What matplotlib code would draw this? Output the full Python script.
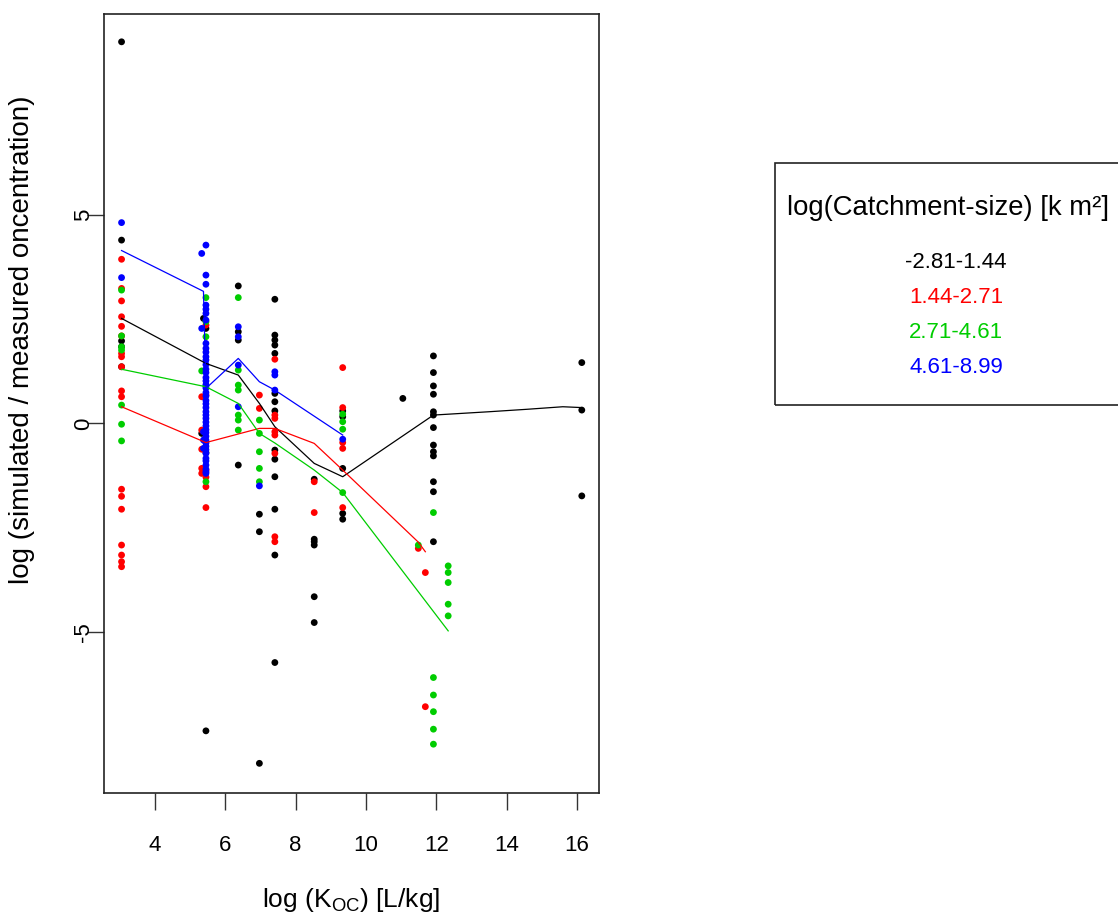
import numpy as np
import matplotlib.pyplot as plt
from matplotlib.patches import Rectangle

plt.rcParams['font.family'] = ['Liberation Sans', 'DejaVu Sans']
plt.rcParams['mathtext.fontset'] = 'custom'
plt.rcParams['mathtext.rm'] = 'Liberation Sans'
plt.rcParams['mathtext.it'] = 'Liberation Sans'
plt.rcParams['axes.unicode_minus'] = False

# --- point data: (log Koc, log sim/meas) per catchment class
black_x = [3.05]*5 + [5.38, 5.45, 5.33, 5.45, 5.45] + [6.37]*4 + [6.97]*3 + [7.41]*14 \
    + [8.53]*6 + [9.34]*5 + [11.05] + [11.92]*13 + [16.14]*3
black_y = [9.16, 4.40, 1.98, 1.84, 1.36,
           2.52, 2.28, -0.24, -0.70, -7.38,
           3.30, 2.20, 2.00, -1.00,
           -2.18, -2.60, -8.16,
           2.98, 2.12, 2.00, 1.88, 1.68, 0.72, 0.52, 0.30, -0.64, -0.86, -1.28, -2.06, -3.16, -5.74,
           -1.34, -2.78, -2.84, -2.92, -4.16, -4.78,
           0.30, 0.16, -1.08, -2.16, -2.30,
           0.60,
           1.62, 1.22, 0.90, 0.70, 0.28, 0.20, -0.10, -0.52, -0.68, -0.78, -1.40, -1.64, -2.84,
           1.46, 0.32, -1.74]

red_x = [3.05]*18 + [5.45, 5.33, 5.45, 5.33, 5.33, 5.33, 5.45, 5.33, 5.45, 5.45, 5.45] \
    + [6.97]*2 + [7.41]*8 + [8.53]*2 + [9.34]*5 + [11.49, 11.69, 11.69]
red_y = [3.94, 3.24, 2.94, 2.56, 2.33, 2.10, 1.68, 1.60, 1.36, 0.78, 0.64,
         -1.58, -1.75, -2.06, -2.92, -3.16, -3.32, -3.44,
         2.36, 0.64, 0.68, -0.16, -0.62, -1.08, -1.12, -1.20, -1.29, -1.52, -2.02,
         0.68, 0.36,
         1.54, 0.20, 0.12, -0.20, -0.28, -0.72, -2.72, -2.84,
         -1.40, -2.14,
         1.34, 0.38, -0.46, -0.60, -2.02,
         -3.00, -3.58, -6.80]

green_x = [3.05]*7 + [5.45, 5.45, 5.45, 5.33, 5.45, 5.45] + [6.37]*7 + [6.97]*5 \
    + [9.34]*4 + [11.49] + [11.92]*6 + [12.34]*5
green_y = [3.20, 2.10, 1.84, 1.76, 0.44, -0.02, -0.42,
           3.02, 2.44, 2.08, 1.26, 0.90, -1.40,
           3.02, 1.28, 0.92, 0.80, 0.20, 0.08, -0.16,
           0.08, -0.24, -0.68, -1.08, -1.40,
           0.22, 0.04, -0.14, -1.66,
           -2.92,
           -2.14, -6.10, -6.52, -6.92, -7.34, -7.70,
           -3.42, -3.58, -3.82, -4.34, -4.62]

blue_dense = [1.92, 1.80, 1.71, 1.60, 1.52, 1.41, 1.30, 1.22, 1.10, 1.02, 0.93, 0.85,
              0.74, 0.66, 0.55, 0.47, 0.38, 0.28, 0.20, 0.12, 0.03, -0.06, -0.15,
              -0.22, -0.31, -0.40, -0.47, -0.55, -0.63, -0.72]
blue_x = [3.05, 3.05, 5.33, 5.33, 5.38, 5.38, 5.38] + [5.45]*(len(blue_dense) + 13) \
    + [6.37]*4 + [6.97] + [7.41]*3 + [9.34]
blue_y = [4.82, 3.50, 4.08, 2.28, -0.20, -0.40, -0.60] + blue_dense \
    + [4.28, 3.56, 3.34, 2.84, 2.74, 2.64, 2.48, -0.84, -0.90, -1.00, -1.10, -1.16, -1.20] \
    + [2.32, 2.08, 1.40, 0.40] + [-1.50] + [1.24, 1.16, 0.80] + [-0.38]

# --- smoothed trend per class
black_lx = [3.05, 5.45, 6.37, 6.97, 7.41, 8.53, 9.34, 11.92, 13.5, 14.6, 15.6, 16.14]
black_ly = [2.52, 1.44, 1.16, 0.48, -0.08, -0.96, -1.28, 0.20, 0.28, 0.34, 0.40, 0.38]
red_lx = [3.05, 5.45, 6.97, 7.41, 8.53, 9.34, 11.49, 11.69]
red_ly = [0.40, -0.46, -0.12, -0.12, -0.48, -1.12, -2.85, -3.08]
green_lx = [3.05, 5.45, 6.37, 6.97, 7.41, 8.53, 9.34, 12.34]
green_ly = [1.30, 0.88, 0.48, -0.24, -0.47, -1.12, -1.66, -4.98]
blue_lx = [3.05, 5.38, 5.45, 6.37, 6.97, 7.41, 9.34]
blue_ly = [4.15, 3.17, 0.84, 1.56, 1.00, 0.80, -0.28]

classes = ['-2.81-1.44', '1.44-2.71', '2.71-4.61', '4.61-8.99']
colors = ['#000000', '#ff0000', '#00cd00', '#0000ff']

fig = plt.figure(figsize=(11.18, 9.18), dpi=100)
ax = fig.add_axes([0.093, 0.1358, 0.4428, 0.8486])

groups = [(black_x, black_y), (red_x, red_y), (green_x, green_y), (blue_x, blue_y)]
for (gx, gy), c in zip(groups, colors):
    ax.scatter(gx, gy, s=24, color=c, edgecolors='none', zorder=2)

lines = [(black_lx, black_ly), (red_lx, red_ly), (green_lx, green_ly), (blue_lx, blue_ly)]
for (lx, ly), c in zip(lines, colors):
    ax.plot(lx, ly, color=c, lw=0.9, zorder=3)

ax.set_xlim(2.55, 16.63)
ax.set_ylim(-8.88, 9.82)
ax.set_xticks([4, 6, 8, 10, 12, 14, 16])
ax.set_yticks([-5, 0, 5])
ax.tick_params(axis='x', length=12, width=1, labelsize=16, pad=18, color='#333333')
ax.tick_params(axis='y', length=12, width=1, labelsize=16, pad=-5, color='#333333')
for lab in ax.get_yticklabels():
    lab.set_rotation(90)
    lab.set_va('center')
for sp in ax.spines.values():
    sp.set_linewidth(1.2)
    sp.set_color('#222222')

fig.text(0.3144, 1 - 900 / 918, r'log (K$_{\mathrm{OC}}$) [L/kg]', fontsize=19,
         ha='center', va='center')
fig.text(22 / 1118, 1 - 340 / 918, 'log (simulated / measured oncentration)', fontsize=20,
         ha='center', va='center', rotation=90)

# legend box, runs off the right edge
box = Rectangle((775 / 1118, 1 - 405 / 918), 0.4, (405 - 163) / 918, transform=fig.transFigure,
                fill=False, edgecolor='#222222', lw=1.2)
fig.patches.append(box)
fig.text(948 / 1118, 1 - 208 / 918, 'log(Catchment-size) [k m²]', fontsize=19.8,
         ha='center', va='center')
for i, (lab, c) in enumerate(zip(classes, colors)):
    fig.text(956 / 1118, 1 - (262 + 35.3 * i) / 918, lab, fontsize=16, color=c,
             ha='center', va='center')

fig.savefig('out.png', dpi=100)
